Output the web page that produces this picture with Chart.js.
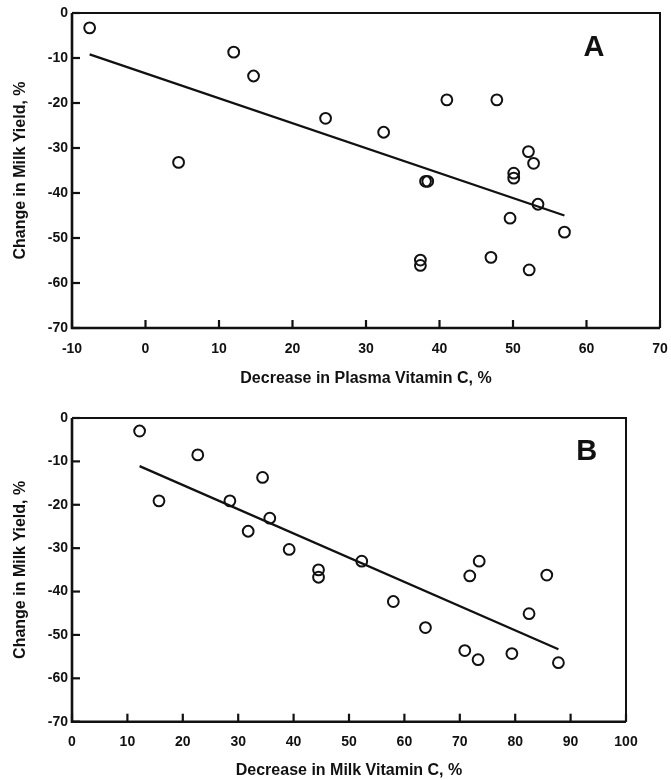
<!DOCTYPE html>
<html>
<head>
<meta charset="utf-8">
<script src="https://cdn.jsdelivr.net/npm/chart.js@4.4.1/dist/chart.umd.min.js"></script>
<style>
  html, body { margin: 0; padding: 0; background: #fff; }
  #wrap { position: relative; width: 671px; height: 780px; overflow: hidden; }
  #cA { position: absolute; left: 0; top: 0; }
  #cB { position: absolute; left: 0; top: 395px; }
</style>
</head>
<body>
<div id="wrap">
  <canvas id="cA" width="671" height="395"></canvas>
  <canvas id="cB" width="671" height="385"></canvas>
</div>
<script>
// ---- Panel A data: decrease in plasma vitamin C (%) vs change in milk yield (%)
const plasmaDecrease = [-7.6, 4.5, 12.0, 14.7, 24.5, 32.4, 38.1, 38.4, 37.4, 37.4, 41.0, 47.0, 47.8, 49.6, 50.1, 50.1, 52.1, 52.2, 52.8, 53.4, 57.0];
const yieldChangeA   = [-3.3, -33.2, -8.7, -14.0, -23.4, -26.5, -37.4, -37.4, -54.9, -56.1, -19.3, -54.3, -19.3, -45.6, -35.6, -36.7, -30.8, -57.1, -33.4, -42.5, -48.7];
const fitAx = [-7.6, 57.0];
const fitAy = [-9.2, -45.0];

// ---- Panel B data: decrease in milk vitamin C (%) vs change in milk yield (%)
const milkDecrease = [12.2, 15.7, 22.7, 28.5, 31.8, 34.4, 35.7, 39.2, 44.5, 44.5, 52.3, 58.0, 63.8, 70.9, 71.8, 73.3, 73.5, 79.4, 82.5, 85.7, 87.8];
const yieldChangeB = [-3.0, -19.1, -8.5, -19.1, -26.1, -13.7, -23.1, -30.3, -35.0, -36.7, -33.0, -42.3, -48.3, -53.6, -36.4, -55.7, -33.0, -54.3, -45.1, -36.2, -56.4];
const fitBx = [12.2, 87.8];
const fitBy = [-11.1, -53.3];

// ---- Axis ranges / labels
const xRangeA = [-10, 70];
const xRangeB = [0, 100];
const yRange = [-70, 0];
const tickStep = 10;
const yTitle = 'Change in Milk Yield, %';
const xTitleA = 'Decrease in Plasma Vitamin C, %';
const xTitleB = 'Decrease in Milk Vitamin C, %';

const FONT = 'Liberation Sans, Arial, Helvetica, sans-serif';
const INK = '#111';

function pts(xs, ys) { return xs.map((x, i) => ({ x: x, y: ys[i] })); }

const framePlugin = {
  id: 'frameTicks',
  afterDraw(chart, args, opts) {
    const ctx = chart.ctx;
    const a = chart.chartArea;
    const xs = chart.scales.x, ys = chart.scales.y;
    ctx.save();
    ctx.strokeStyle = INK;
    ctx.lineCap = 'butt';
    ctx.lineWidth = 2;
    ctx.beginPath();
    ctx.moveTo(a.left, a.top); ctx.lineTo(a.right, a.top); ctx.lineTo(a.right, a.bottom);
    ctx.stroke();
    ctx.lineWidth = 2.6;
    ctx.beginPath();
    ctx.moveTo(a.left, a.top); ctx.lineTo(a.left, a.bottom); ctx.lineTo(a.right, a.bottom);
    ctx.stroke();
    ctx.lineWidth = 2.2;
    const L = 8;
    xs.ticks.forEach(t => {
      const p = xs.getPixelForValue(t.value);
      ctx.beginPath(); ctx.moveTo(p, a.bottom); ctx.lineTo(p, a.bottom - L); ctx.stroke();
    });
    ys.ticks.forEach(t => {
      const p = ys.getPixelForValue(t.value);
      ctx.beginPath(); ctx.moveTo(a.left, p); ctx.lineTo(a.left + L, p); ctx.stroke();
    });
    if (opts && opts.letter) {
      ctx.fillStyle = INK;
      ctx.font = 'bold 29px ' + FONT;
      ctx.textAlign = 'center';
      ctx.textBaseline = 'middle';
      ctx.fillText(opts.letter, xs.getPixelForValue(opts.lx), ys.getPixelForValue(opts.ly));
    }
    ctx.restore();
  }
};

function zeroPad(s) { s.paddingLeft = 0; s.paddingRight = 0; s.paddingTop = 0; s.paddingBottom = 0; }

function makeChart(id, xs, ys, fx, fy, xRange, xTitle, cfg) {
  return new Chart(document.getElementById(id), {
    type: 'scatter',
    data: {
      datasets: [
        {
          data: pts(xs, ys),
          showLine: false,
          pointStyle: 'circle',
          pointRadius: 5.4,
          pointBorderWidth: 2,
          pointBorderColor: INK,
          pointBackgroundColor: 'rgba(0,0,0,0)',
          order: 2
        },
        {
          data: pts(fx, fy),
          showLine: true,
          borderColor: INK,
          borderWidth: 2.3,
          pointRadius: 0,
          fill: false,
          order: 1
        }
      ]
    },
    options: {
      responsive: false,
      animation: false,
      events: [],
      layout: { padding: { top: cfg.padTop, right: cfg.padRight, left: 0, bottom: 0 } },
      plugins: {
        legend: { display: false },
        tooltip: { enabled: false },
        frameTicks: { letter: cfg.letter, lx: cfg.lx, ly: cfg.ly }
      },
      scales: {
        x: {
          type: 'linear',
          min: xRange[0], max: xRange[1],
          border: { display: false },
          grid: { display: false, drawTicks: false },
          ticks: { stepSize: tickStep, color: INK, padding: cfg.xTickPad, font: { family: FONT, size: 14, weight: 'bold' } },
          title: { display: true, text: xTitle, color: INK, padding: { top: 0, bottom: cfg.xTitlePad }, font: { family: FONT, size: 16, weight: 'bold' } },
          afterFit(s) { s.height = cfg.xAxisH; zeroPad(s); }
        },
        y: {
          type: 'linear',
          min: yRange[0], max: yRange[1],
          border: { display: false },
          grid: { display: false, drawTicks: false },
          ticks: { stepSize: tickStep, color: INK, padding: 4, font: { family: FONT, size: 14, weight: 'bold' } },
          title: { display: true, text: yTitle, color: INK, padding: { top: 11, bottom: 0 }, font: { family: FONT, size: 16, weight: 'bold' } },
          afterFit(s) { s.width = 72; zeroPad(s); }
        }
      }
    },
    plugins: [framePlugin]
  });
}

makeChart('cA', plasmaDecrease, yieldChangeA, fitAx, fitAy, xRangeA, xTitleA,
  { padTop: 13, padRight: 11, xAxisH: 67, xTickPad: 12.9, xTitlePad: 7, letter: 'A', lx: 61.0, ly: -7.8 });
makeChart('cB', milkDecrease, yieldChangeB, fitBx, fitBy, xRangeB, xTitleB,
  { padTop: 23, padRight: 45, xAxisH: 58.3, xTickPad: 11.6, xTitlePad: 0, letter: 'B', lx: 92.9, ly: -7.8 });
</script>
</body>
</html>
